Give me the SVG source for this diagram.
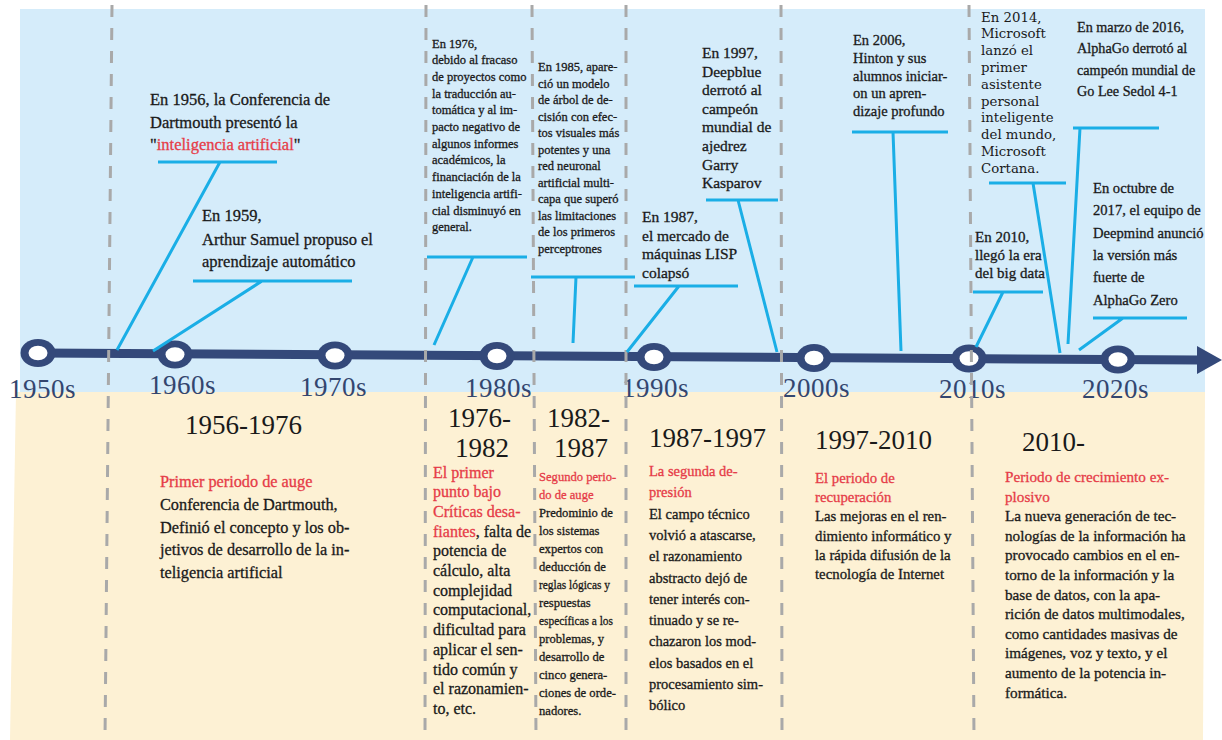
<svg xmlns="http://www.w3.org/2000/svg" width="1222" height="740" viewBox="0 0 1222 740">
<style>
.t{font-family:"Liberation Serif","Times New Roman",serif;fill:#1a1a1a;stroke:#1a1a1a;stroke-width:0.3px}
.d{font-family:"DejaVu Serif",serif;fill:#1a1a1a}
.t.red,.red{fill:#e63c48;stroke:#e63c48}
.dec{font-family:"Liberation Serif",serif;font-size:27px;fill:#33466f;letter-spacing:0.5px}
.hd{font-family:"Liberation Serif",serif;font-size:27px;fill:#1a1a1a}
.dash{stroke:#a9a9a9;stroke-width:3;stroke-dasharray:12 11;fill:none}
.call{stroke:#1aaee6;stroke-width:3;fill:none;stroke-linecap:butt}
.ring{fill:#34497a}
.hole{fill:#ffffff}
</style>
<rect x="0" y="0" width="1222" height="740" fill="#ffffff"/>
<g id="background">
<rect x="20" y="9" width="1185" height="384" fill="#d5ecfa"/>
<polygon points="16,392 1205,392 1203,740 10,740" fill="#fdf1d4"/>
</g>
<g id="axis">
<line x1="38" y1="353" x2="1200" y2="360" stroke="#34497a" stroke-width="9"/>
<polygon points="1197,346 1222,360 1197,374" fill="#34497a"/>
</g>
<g id="decades">
<g id="d1950"><ellipse class="ring" cx="38" cy="353" rx="17.5" ry="14"/><ellipse class="hole" cx="38" cy="353" rx="9.5" ry="7.3"/><text class="dec" x="9" y="398">1950s</text></g>
<g id="d1960"><ellipse class="ring" cx="175" cy="354.5" rx="17.5" ry="14"/><ellipse class="hole" cx="175" cy="354.5" rx="9.5" ry="7.3"/><text class="dec" x="149" y="394">1960s</text></g>
<g id="d1970"><ellipse class="ring" cx="335" cy="355.5" rx="17.5" ry="14"/><ellipse class="hole" cx="335" cy="355.5" rx="9.5" ry="7.3"/><text class="dec" x="300" y="396">1970s</text></g>
<g id="d1980"><ellipse class="ring" cx="497" cy="356" rx="17.5" ry="14"/><ellipse class="hole" cx="497" cy="356" rx="9.5" ry="7.3"/><text class="dec" x="465" y="397">1980s</text></g>
<g id="d1990"><ellipse class="ring" cx="654" cy="357" rx="17.5" ry="14"/><ellipse class="hole" cx="654" cy="357" rx="9.5" ry="7.3"/><text class="dec" x="622" y="397">1990s</text></g>
<g id="d2000"><ellipse class="ring" cx="814" cy="358" rx="17.5" ry="14"/><ellipse class="hole" cx="814" cy="358" rx="9.5" ry="7.3"/><text class="dec" x="783" y="397">2000s</text></g>
<g id="d2010"><ellipse class="ring" cx="969" cy="358.5" rx="17.5" ry="14"/><ellipse class="hole" cx="969" cy="358.5" rx="9.5" ry="7.3"/><text class="dec" x="939" y="398">2010s</text></g>
<g id="d2020"><ellipse class="ring" cx="1118" cy="359.5" rx="17.5" ry="14"/><ellipse class="hole" cx="1118" cy="359.5" rx="9.5" ry="7.3"/><text class="dec" x="1082" y="398">2020s</text></g>
</g>
<g id="dividers">
<line class="dash" x1="112" y1="5" x2="105" y2="740"/>
<line class="dash" x1="426" y1="5" x2="425" y2="740"/>
<line class="dash" x1="532" y1="5" x2="536" y2="740"/>
<line class="dash" x1="626" y1="5" x2="626" y2="740"/>
<line class="dash" x1="781" y1="5" x2="782" y2="740"/>
<line class="dash" x1="969" y1="5" x2="974" y2="740"/>
</g>
<g id="connectors">
<path class="call" d="M158,162 H277 M220,162 L117,350"/>
<path class="call" d="M193,281 H352 M262,281 L153,351"/>
<path class="call" d="M427,257 H527 M473,257 L434,345"/>
<path class="call" d="M531,277 H635 M576,277 L573,343"/>
<path class="call" d="M634,286 H738 M679,286 L627,352"/>
<path class="call" d="M706,200 H778 M738,200 L777,352"/>
<path class="call" d="M852,132 H948 M893,132 L901,351"/>
<path class="call" d="M989,183 H1066 M1033,183 L1060,353"/>
<path class="call" d="M1073,128 H1159 M1080,128 L1068,344"/>
<path class="call" d="M1093,318 H1187 M1123,318 L1079,350"/>
<path class="call" d="M973,292 H1043 M1003,292 L976,347"/>
</g>
<g id="e1956" font-size="16.5">
<text class="t" x="150" y="105">En 1956, la Conferencia de</text>
<text class="t" x="150" y="127.5">Dartmouth presentó la</text>
<text class="t" x="150" y="150">"<tspan class="red">inteligencia artificial</tspan>"</text>
</g>
<g id="e1959" font-size="16.5">
<text class="t" x="202" y="221">En 1959,</text>
<text class="t" x="202" y="245">Arthur Samuel propuso el</text>
<text class="t" x="202" y="267">aprendizaje automático</text>
</g>
<g id="e1976" font-size="12.5">
<text class="t" x="432" y="47.5">En 1976,</text>
<text class="t" x="432" y="64.2">debido al fracaso</text>
<text class="t" x="432" y="80.9">de proyectos como</text>
<text class="t" x="432" y="97.6">la traducción au-</text>
<text class="t" x="432" y="114.3">tomática y al im-</text>
<text class="t" x="432" y="131">pacto negativo de</text>
<text class="t" x="432" y="147.7">algunos informes</text>
<text class="t" x="432" y="164.4">académicos, la</text>
<text class="t" x="432" y="181.1">financiación de la</text>
<text class="t" x="432" y="197.8">inteligencia artifi-</text>
<text class="t" x="432" y="214.5">cial disminuyó en</text>
<text class="t" x="432" y="231.2">general.</text>
</g>
<g id="e1985" font-size="12.5">
<text class="t" x="538" y="71">En 1985, apare-</text>
<text class="t" x="538" y="87.5">ció un modelo</text>
<text class="t" x="538" y="104">de árbol de de-</text>
<text class="t" x="538" y="120.5">cisión con efec-</text>
<text class="t" x="538" y="137">tos visuales más</text>
<text class="t" x="538" y="153.5">potentes y una</text>
<text class="t" x="538" y="170">red neuronal</text>
<text class="t" x="538" y="186.5">artificial multi-</text>
<text class="t" x="538" y="203">capa que superó</text>
<text class="t" x="538" y="219.5">las limitaciones</text>
<text class="t" x="538" y="236">de los primeros</text>
<text class="t" x="538" y="252.5">perceptrones</text>
</g>
<g id="e1987" font-size="15.5">
<text class="t" x="642" y="222">En 1987,</text>
<text class="t" x="642" y="240.5">el mercado de</text>
<text class="t" x="642" y="259">máquinas LISP</text>
<text class="t" x="642" y="277.5">colapsó</text>
</g>
<g id="e1997" font-size="15.5">
<text class="t" x="702" y="58">En 1997,</text>
<text class="t" x="702" y="76.6">Deepblue</text>
<text class="t" x="702" y="95.2">derrotó al</text>
<text class="t" x="702" y="113.8">campeón</text>
<text class="t" x="702" y="132.4">mundial de</text>
<text class="t" x="702" y="151">ajedrez</text>
<text class="t" x="702" y="169.6">Garry</text>
<text class="t" x="702" y="188.2">Kasparov</text>
</g>
<g id="e2006" font-size="14.5">
<text class="t" x="853" y="45">En 2006,</text>
<text class="t" x="853" y="62.8">Hinton y sus</text>
<text class="t" x="853" y="80.6">alumnos iniciar-</text>
<text class="t" x="853" y="98.4">on un apren-</text>
<text class="t" x="853" y="116.2">dizaje profundo</text>
</g>
<g id="e2010" font-size="15">
<text class="t" x="975" y="242">En 2010,</text>
<text class="t" x="975" y="260">llegó la era</text>
<text class="t" x="975" y="278">del big data</text>
</g>
<g id="e2014" font-size="13.3">
<text class="d" x="981" y="21.5">En 2014,</text>
<text class="d" x="981" y="38.3">Microsoft</text>
<text class="d" x="981" y="55.1">lanzó el</text>
<text class="d" x="981" y="71.9">primer</text>
<text class="d" x="981" y="88.7">asistente</text>
<text class="d" x="981" y="105.5">personal</text>
<text class="d" x="981" y="122.3">inteligente</text>
<text class="d" x="981" y="139.1">del mundo,</text>
<text class="d" x="981" y="155.9">Microsoft</text>
<text class="d" x="981" y="172.7">Cortana.</text>
</g>
<g id="e2016" font-size="14.2">
<text class="t" x="1077" y="32">En marzo de 2016,</text>
<text class="t" x="1077" y="53.4">AlphaGo derrotó al</text>
<text class="t" x="1077" y="74.8">campeón mundial de</text>
<text class="t" x="1077" y="96.2">Go Lee Sedol 4-1</text>
</g>
<g id="e2017" font-size="14.6">
<text class="t" x="1093" y="193">En octubre de</text>
<text class="t" x="1093" y="215.3">2017, el equipo de</text>
<text class="t" x="1093" y="237.6">Deepmind anunció</text>
<text class="t" x="1093" y="259.9">la versión más</text>
<text class="t" x="1093" y="282.2">fuerte de</text>
<text class="t" x="1093" y="304.5">AlphaGo Zero</text>
</g>
<g id="p1956">
<text class="hd" x="185" y="434">1956-1976</text>
<g font-size="16.3">
<text class="t red" x="160" y="487">Primer periodo de auge</text>
<text class="t" x="160" y="510">Conferencia de Dartmouth,</text>
<text class="t" x="160" y="532.5">Definió el concepto y los ob-</text>
<text class="t" x="160" y="555">jetivos de desarrollo de la in-</text>
<text class="t" x="160" y="578">teligencia artificial</text>
</g>
</g>
<g id="p1976">
<text class="hd" x="448" y="427">1976-</text>
<text class="hd" x="455" y="457">1982</text>
<g font-size="16">
<text class="t red" x="433" y="477.5">El primer</text>
<text class="t red" x="433" y="497.2">punto bajo</text>
<text class="t red" x="433" y="516.9">Críticas desa-</text>
<text class="t" x="433" y="536.6"><tspan class="red">fiantes</tspan>, falta de</text>
<text class="t" x="433" y="556.3">potencia de</text>
<text class="t" x="433" y="576">cálculo, alta</text>
<text class="t" x="433" y="595.7">complejidad</text>
<text class="t" x="433" y="615.4">computacional,</text>
<text class="t" x="433" y="635.1">dificultad para</text>
<text class="t" x="433" y="654.8">aplicar el sen-</text>
<text class="t" x="433" y="674.5">tido común y</text>
<text class="t" x="433" y="694.2">el razonamien-</text>
<text class="t" x="433" y="713.9">to, etc.</text>
</g>
</g>
<g id="p1982">
<text class="hd" x="547" y="427">1982-</text>
<text class="hd" x="554" y="457">1987</text>
<g font-size="12.6">
<text class="t red" x="539" y="480.5">Segundo perio-</text>
<text class="t red" x="539" y="498.5">do de auge</text>
<text class="t" x="539" y="516.5">Predominio de</text>
<text class="t" x="539" y="534.5">los sistemas</text>
<text class="t" x="539" y="552.5">expertos con</text>
<text class="t" x="539" y="570.5">deducción de</text>
<text class="t" x="539" y="588.5" textLength="71" lengthAdjust="spacingAndGlyphs">reglas lógicas y</text>
<text class="t" x="539" y="606.5">respuestas</text>
<text class="t" x="539" y="624.5" textLength="74" lengthAdjust="spacingAndGlyphs">específicas a los</text>
<text class="t" x="539" y="642.5">problemas, y</text>
<text class="t" x="539" y="660.5">desarrollo de</text>
<text class="t" x="539" y="678.5">cinco genera-</text>
<text class="t" x="539" y="696.5">ciones de orde-</text>
<text class="t" x="539" y="714.5">nadores.</text>
</g>
</g>
<g id="p1987">
<text class="hd" x="649" y="447">1987-1997</text>
<g font-size="14.5">
<text class="t red" x="649" y="476">La segunda de-</text>
<text class="t red" x="649" y="497.3">presión</text>
<text class="t" x="649" y="518.6">El campo técnico</text>
<text class="t" x="649" y="539.9">volvió a atascarse,</text>
<text class="t" x="649" y="561.2">el razonamiento</text>
<text class="t" x="649" y="582.5">abstracto dejó de</text>
<text class="t" x="649" y="603.8">tener interés con-</text>
<text class="t" x="649" y="625.1">tinuado y se re-</text>
<text class="t" x="649" y="646.4">chazaron los mod-</text>
<text class="t" x="649" y="667.7">elos basados en el</text>
<text class="t" x="649" y="689">procesamiento sim-</text>
<text class="t" x="649" y="710.3">bólico</text>
</g>
</g>
<g id="p1997">
<text class="hd" x="815" y="449">1997-2010</text>
<g font-size="14.8">
<text class="t red" x="815" y="483">El periodo de</text>
<text class="t red" x="815" y="502.2">recuperación</text>
<text class="t" x="815" y="521.4">Las mejoras en el ren-</text>
<text class="t" x="815" y="540.6">dimiento informático y</text>
<text class="t" x="815" y="559.8">la rápida difusión de la</text>
<text class="t" x="815" y="579">tecnología de Internet</text>
</g>
</g>
<g id="p2010">
<text class="hd" x="1022" y="451">2010-</text>
<g font-size="15.2">
<text class="t red" x="1005" y="482">Periodo de crecimiento ex-</text>
<text class="t red" x="1005" y="501.6">plosivo</text>
<text class="t" x="1005" y="521.2">La nueva generación de tec-</text>
<text class="t" x="1005" y="540.8">nologías de la información ha</text>
<text class="t" x="1005" y="560.4">provocado cambios en el en-</text>
<text class="t" x="1005" y="580">torno de la información y la</text>
<text class="t" x="1005" y="599.6">base de datos, con la apa-</text>
<text class="t" x="1005" y="619.2">rición de datos multimodales,</text>
<text class="t" x="1005" y="638.8">como cantidades masivas de</text>
<text class="t" x="1005" y="658.4">imágenes, voz y texto, y el</text>
<text class="t" x="1005" y="678">aumento de la potencia in-</text>
<text class="t" x="1005" y="697.6">formática.</text>
</g>
</g>
</svg>
